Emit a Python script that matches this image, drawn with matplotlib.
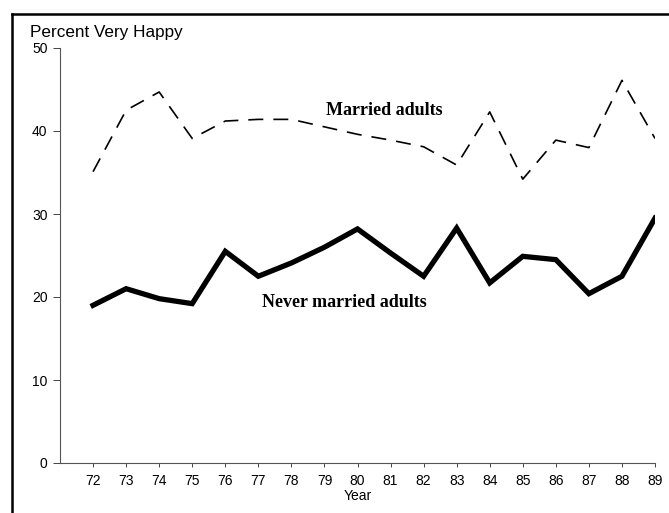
import matplotlib
matplotlib.use("Agg")
import matplotlib.pyplot as plt
from matplotlib.lines import Line2D

years = list(range(72, 90))
year_labels = [str(y) for y in years]
married = [35.1, 42.5, 44.7, 39.1, 41.2, 41.4, 41.4, 40.5, 39.6, 38.9, 38.1,
           35.9, 42.3, 34.2, 38.9, 38.0, 46.1, 39.1]
never_married = [19.0, 21.0, 19.8, 19.2, 25.5, 22.5, 24.1, 26.0, 28.2, 25.3,
                 22.5, 28.3, 21.7, 24.9, 24.5, 20.4, 22.5, 29.5]
y_ticks = [0, 10, 20, 30, 40, 50]

sans = "Liberation Sans"
serif = "Liberation Serif"

fig = plt.figure(figsize=(6.69, 5.13), dpi=100)
ax = fig.add_axes([60 / 669, 50 / 513, 595 / 669, 415 / 513])

ax.plot(years, married, color="black", lw=1.2, dashes=(9, 6))
ax.plot(years, never_married, color="black", lw=3.8, solid_joinstyle="miter")

ax.set_xlim(71, 89)
ax.set_ylim(0, 50)
ax.set_xticks(years)
ax.set_xticklabels(year_labels, fontfamily=sans, fontsize=10)
ax.set_yticks(y_ticks)
ax.set_yticklabels([str(v) for v in y_ticks], fontfamily=sans, fontsize=10)
ax.tick_params(axis="x", direction="out", length=3, width=0.7, pad=5,
               color="#444444")
ax.tick_params(axis="y", direction="out", length=5, width=0.7, pad=4,
               color="#444444")
for s in ["top", "right"]:
    ax.spines[s].set_visible(False)
for s in ["left", "bottom"]:
    ax.spines[s].set_color("#555555")
    ax.spines[s].set_linewidth(0.8)

ax.set_xlabel("Year", fontfamily=sans, fontsize=10, labelpad=1)

ax.text(80.8, 42.5, "Married adults", fontfamily=serif, fontweight="bold",
        fontsize=13, ha="center", va="center")
ax.text(79.6, 19.3, "Never married adults", fontfamily=serif,
        fontweight="bold", fontsize=13, ha="center", va="center")

fig.text(30 / 669, 1 - 33 / 513, "Percent Very Happy", fontfamily=sans,
         fontsize=12.3, ha="left", va="center")

# outer frame (left and top edges only)
fig.add_artist(Line2D([12 / 669, 12 / 669], [0, 1 - 14 / 513],
                      transform=fig.transFigure, color="black", lw=1.8))
fig.add_artist(Line2D([12 / 669, 1], [1 - 14 / 513, 1 - 14 / 513],
                      transform=fig.transFigure, color="black", lw=1.8))

fig.savefig("out.png", dpi=100)
